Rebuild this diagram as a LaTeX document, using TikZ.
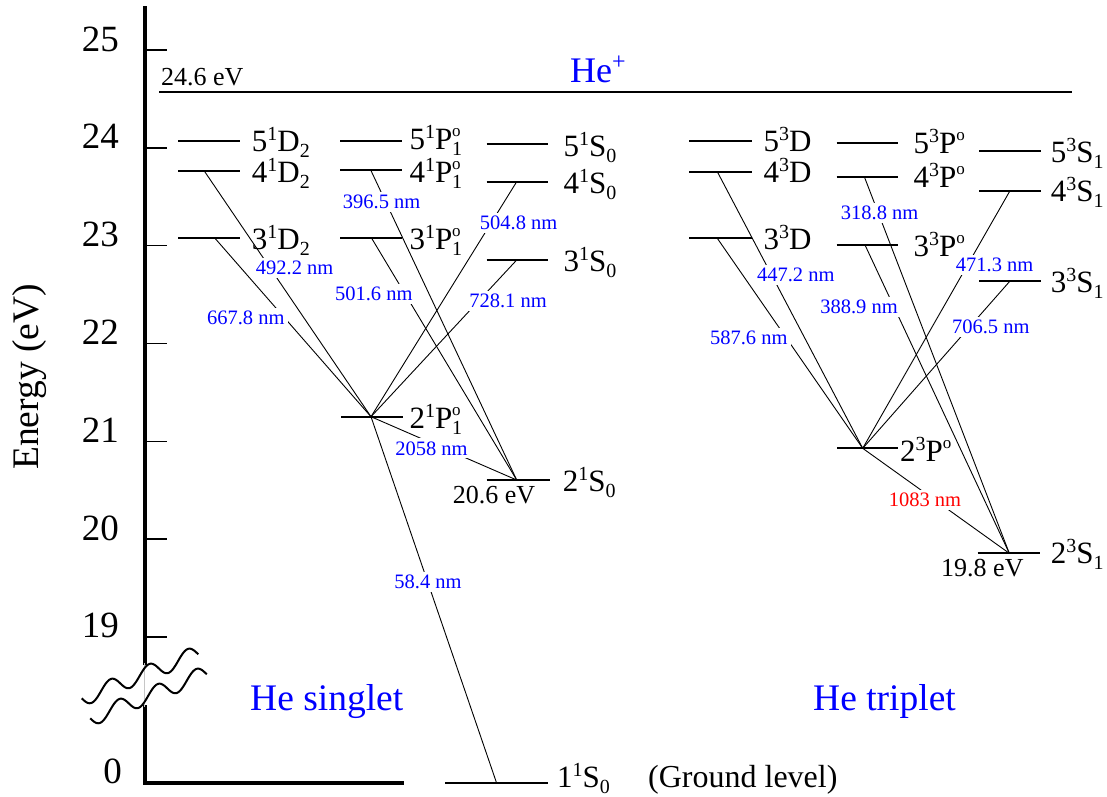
\documentclass[tikz,border=0pt]{standalone}
\usepackage{fontspec}
\setmainfont{Liberation Serif}
\newcommand{\hsup}[1]{\raisebox{11pt}{\fontsize{20}{20}\selectfont #1}}
\newcommand{\hsub}[1]{\raisebox{-6pt}{\fontsize{20}{20}\selectfont #1}}
\newcommand{\hsupo}{\raisebox{13pt}{\fontsize{17}{17}\selectfont o}}
\newcommand{\hsupsub}[1]{\makebox[0pt][l]{\hsupo}\hsub{#1}}
\tikzset{
  lvl/.style={line width=2pt},
  trans/.style={line width=0.9pt},
  axisline/.style={line width=3.5pt, line join=miter, line cap=rect},
  tick/.style={line width=1.5pt},
  term/.style={anchor=base west, inner sep=0pt, font=\fontsize{31}{33}\selectfont},
  wl/.style={fill=white, inner sep=3pt, text=blue, font=\fontsize{20.5}{22}\selectfont},
  rl/.style={wl, text=red},
  ev/.style={anchor=base west, inner sep=0pt, font=\fontsize{26}{28}\selectfont},
  num/.style={anchor=base east, inner sep=0pt, font=\fontsize{37}{40}\selectfont},
  title/.style={anchor=base west, inner sep=0pt, text=blue, font=\fontsize{37.5}{40}\selectfont},
  wave/.style={line width=2pt}
}
\begin{document}
\begin{tikzpicture}[x=1pt,y=-1pt]
\useasboundingbox (0,0) rectangle (1107,796);

% ---------- axis ----------
\draw[axisline] (145,8) -- (145,663);
\draw[axisline] (145,707) -- (145,783) -- (402,783);
\draw[gray!45, line width=0.6pt] (144,663) -- (144,707);
\foreach \e in {19,...,25}{
  \draw[tick] (145,{50+(25-\e)*97.83}) -- (167,{50+(25-\e)*97.83});
  \node[num] (n\e) at (119,{51+(25-\e)*97.83}) {\e};
}
\node[num] (n0) at (122,783) {0};
\node[rotate=90, inner sep=0pt, font=\fontsize{37.5}{40}\selectfont] (elabel) at (30,377) {Energy (eV)};

% axis break
\draw[wave] plot[domain=81.7:198.3, samples=120, smooth] (\x, {730.4-0.39*\x+8.2*cos((\x-130)*9.3506)});
\begin{scope}[shift={(8.5,20)}]
\draw[wave] plot[domain=81.7:198.3, samples=120, smooth] (\x, {730.4-0.39*\x+8.2*cos((\x-130)*9.3506)});
\end{scope}

% ---------- ionisation limit ----------
\coordinate (ionL) at (159.3,92.3);
\coordinate (ionR) at (1072,92.3);
\draw[lvl] (ionL) -- (ionR);
\node[ev] (ion) at (161,85) {24.6 eV};
\node[anchor=base west, inner sep=0pt, text=blue, font=\fontsize{36}{38}\selectfont] (heplus) at (570,82) {He\raisebox{13pt}{\fontsize{24}{24}\selectfont +}};

% ---------- singlet levels ----------
\coordinate (sD5a) at (178.3,140.7); \coordinate (sD5b) at (240,140.7);
\coordinate (sD4a) at (178.3,171);   \coordinate (sD4b) at (240,171);
\coordinate (sD3a) at (178.3,238.3); \coordinate (sD3b) at (240,238.3);
\coordinate (sP5a) at (340,140.7);   \coordinate (sP5b) at (401.7,140.7);
\coordinate (sP4a) at (340,170);     \coordinate (sP4b) at (401.7,170);
\coordinate (sP3a) at (340,238.3);   \coordinate (sP3b) at (401.7,238.3);
\coordinate (sS5a) at (486.7,144.3); \coordinate (sS5b) at (548.3,144.3);
\coordinate (sS4a) at (486.7,181.7); \coordinate (sS4b) at (548.3,181.7);
\coordinate (sS3a) at (486.7,260);   \coordinate (sS3b) at (548.3,260);
\coordinate (sP2a) at (341,416.7);   \coordinate (sP2b) at (402.7,416.7);
\coordinate (sS2a) at (486.7,480);   \coordinate (sS2b) at (550,480);
\coordinate (sS1a) at (445,783.3);   \coordinate (sS1b) at (548.3,783.3);

% transition end points (singlet)
\coordinate (s4D) at (204.3,171);
\coordinate (s3D) at (215,238.3);
\coordinate (s4P) at (370.7,170);
\coordinate (s3P) at (371.7,238.3);
\coordinate (s4S) at (516.7,181.7);
\coordinate (s3S) at (516.7,260);
\coordinate (s2P) at (371,416.7);
\coordinate (s2S) at (516.7,480);
\coordinate (s1S) at (496.7,783.3);

% ---------- triplet levels ----------
\coordinate (tD5a) at (689.3,140.7); \coordinate (tD5b) at (751.7,140.7);
\coordinate (tD4a) at (689.3,171.7); \coordinate (tD4b) at (751.7,171.7);
\coordinate (tD3a) at (689.3,238.3); \coordinate (tD3b) at (751.7,238.3);
\coordinate (tP5a) at (836.7,142.7); \coordinate (tP5b) at (898.3,142.7);
\coordinate (tP4a) at (836.7,176.7); \coordinate (tP4b) at (898.3,176.7);
\coordinate (tP3a) at (836.7,245);   \coordinate (tP3b) at (898.3,245);
\coordinate (tS5a) at (979.3,151);   \coordinate (tS5b) at (1041,151);
\coordinate (tS4a) at (979.3,190.7); \coordinate (tS4b) at (1041,190.7);
\coordinate (tS3a) at (979.3,281);   \coordinate (tS3b) at (1041,281);
\coordinate (tP2a) at (837.3,448.3); \coordinate (tP2b) at (898.3,448.3);
\coordinate (tS2a) at (977.7,553.3); \coordinate (tS2b) at (1040,553.3);

\coordinate (t4D) at (717.3,171.7);
\coordinate (t3D) at (717.3,238.3);
\coordinate (t4P) at (864.3,176.7);
\coordinate (t3P) at (865,245);
\coordinate (t4S) at (1010,190.7);
\coordinate (t3S) at (1010,281);
\coordinate (t2P) at (862.7,448.3);
\coordinate (t2S) at (1009.3,553.3);

% ---------- transitions ----------
\draw[trans] (s4D) -- (s2P);
\draw[trans] (s3D) -- (s2P);
\draw[trans] (s4S) -- (s2P);
\draw[trans] (s3S) -- (s2P);
\draw[trans] (s4P) -- (s2S);
\draw[trans] (s3P) -- (s2S);
\draw[trans] (s2P) -- (s2S);
\draw[trans] (s2P) -- (s1S);

\draw[trans] (t4D) -- (t2P);
\draw[trans] (t3D) -- (t2P);
\draw[trans] (t4S) -- (t2P);
\draw[trans] (t3S) -- (t2P);
\draw[trans] (t4P) -- (t2S);
\draw[trans] (t3P) -- (t2S);
\draw[trans] (t2P) -- (t2S);

% wavelength labels
\node[wl] (w3965) at (381.7,201.7) {396.5 nm};
\node[wl] (w5048) at (518.7,223.3) {504.8 nm};
\node[wl] (w4922) at (294.7,268.3) {492.2 nm};
\node[wl] (w5016) at (373.8,294) {501.6 nm};
\node[wl] (w7281) at (508,300.7) {728.1 nm};
\node[wl] (w6678) at (245.8,318.3) {667.8 nm};
\node[wl] (w2058) at (431.5,448.3) {2058 nm};
\node[wl] (w584) at (428,582) {58.4 nm};

\node[wl] (w3188) at (879.7,212.7) {318.8 nm};
\node[wl] (w4472) at (795.8,275) {447.2 nm};
\node[wl] (w4713) at (994.7,265) {471.3 nm};
\node[wl] (w3889) at (859,306.7) {388.9 nm};
\node[wl] (w5876) at (748.8,338.3) {587.6 nm};
\node[wl] (w7065) at (990.8,327.3) {706.5 nm};
\node[rl] (w1083) at (925,500) {1083 nm};

% level lines
\foreach \a in {sD5,sD4,sD3,sP5,sP4,sP3,sS5,sS4,sS3,sP2,sS2,sS1,tD5,tD4,tD3,tP5,tP4,tP3,tS5,tS4,tS3,tP2,tS2}
  \draw[lvl] (\a a) -- (\a b);

% level labels (singlet)
\node[term] (lsD5) at (251.7,151) {5\hsup{1}D\hsub{2}};
\node[term] (lsD4) at (251.7,182) {4\hsup{1}D\hsub{2}};
\node[term] (lsD3) at (251.7,249) {3\hsup{1}D\hsub{2}};
\node[term] (lsP5) at (409.3,149) {5\hsup{1}P\hsupsub{1}};
\node[term] (lsP4) at (409.3,182) {4\hsup{1}P\hsupsub{1}};
\node[term] (lsP3) at (409.3,249) {3\hsup{1}P\hsupsub{1}};
\node[term] (lsS5) at (563.3,156) {5\hsup{1}S\hsub{0}};
\node[term] (lsS4) at (563.3,193) {4\hsup{1}S\hsub{0}};
\node[term] (lsS3) at (563.3,271) {3\hsup{1}S\hsub{0}};
\node[term] (lsP2) at (409.3,428) {2\hsup{1}P\hsupsub{1}};
\node[term] (lsS2) at (562.7,491) {2\hsup{1}S\hsub{0}};
\node[term] (lsS1) at (557,787) {1\hsup{1}S\hsub{0}};
\node[anchor=base west, inner sep=0pt, font=\fontsize{32}{34}\selectfont] (ground) at (648,787) {(Ground level)};
\node[ev] (e206) at (452.7,503) {20.6 eV};

% level labels (triplet)
\node[term] (ltD5) at (763.3,151) {5\hsup{3}D};
\node[term] (ltD4) at (763.3,182) {4\hsup{3}D};
\node[term] (ltD3) at (763.3,249) {3\hsup{3}D};
\node[term] (ltP5) at (913.3,153) {5\hsup{3}P\hsupo};
\node[term] (ltP4) at (913.3,187) {4\hsup{3}P\hsupo};
\node[term] (ltP3) at (913.3,256) {3\hsup{3}P\hsupo};
\node[term] (ltS5) at (1050.7,162) {5\hsup{3}S\hsub{1}};
\node[term] (ltS4) at (1050.7,201) {4\hsup{3}S\hsub{1}};
\node[term] (ltS3) at (1050.7,292) {3\hsup{3}S\hsub{1}};
\node[term] (ltP2) at (900,461) {2\hsup{3}P\hsupo};
\node[term] (ltS2) at (1050.7,563) {2\hsup{3}S\hsub{1}};
\node[ev] (e198) at (941,576) {19.8 eV};

% titles
\node[title] (single) at (250,710) {He singlet};
\node[title] (triple) at (813,710) {He triplet};
\end{tikzpicture}
\end{document}
